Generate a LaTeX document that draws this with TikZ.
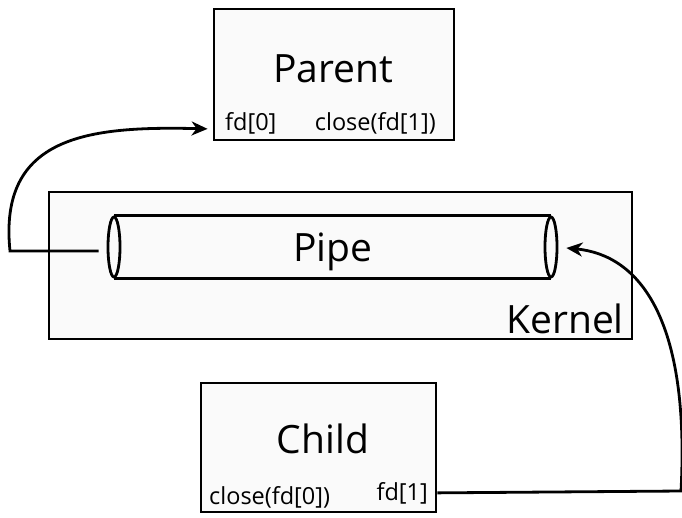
\documentclass[tikz,border=0pt]{standalone}
\usepackage{fontspec}
\setmainfont{Open Sans}
\usetikzlibrary{arrows.meta,positioning,calc,shapes.geometric}

\begin{document}
\begin{tikzpicture}[
  x=1pt, y=-1pt,
  box/.style={draw, line width=2.8pt, fill=black!2, inner sep=0pt},
  pipeend/.style={ellipse, draw, line width=2.8pt, fill=black!2, inner sep=0pt, minimum width=12pt, minimum height=60pt},
  big/.style={font=\fontsize{39}{42}\selectfont, inner sep=0pt},
  small/.style={font=\fontsize{23.5}{26}\selectfont, inner sep=0pt},
  arrow/.style={-{Stealth[length=16pt, width=14pt, inset=5pt]}, line width=2.8pt}
]
\useasboundingbox (0,0) rectangle (682,517);

% processes and kernel
\node[box, minimum width=240pt, minimum height=131pt] (parent) at (334,74.5) {};
\node[box, minimum width=583pt, minimum height=147pt] (kernel) at (340.5,265.5) {};
\node[box, minimum width=235pt, minimum height=129pt] (child) at (318.5,447.5) {};

\node[big, anchor=base] (parentname) at (333,82) {Parent};
\node[small, anchor=base west] (fd0) at (225,130) {fd[0]};
\node[small, anchor=base east] (close1) at (436,130) {close(fd[1])};

\node[big, anchor=base east] (kernelname) at (624,333) {Kernel};

\node[big, anchor=base] (childname) at (323,453) {Child};
\node[small, anchor=base west] (close0) at (209,504) {close(fd[0])};
\node[small, anchor=base east] (fd1) at (428,500) {fd[1]};

% pipe
\node[fill=black!2, minimum width=437pt, minimum height=60pt, inner sep=0pt] (pipe) at (332.5,247) {};
\node[pipeend] (pipel) at (114,247) {};
\node[pipeend] (piper) at (551,247) {};
\draw[line width=2.8pt] (pipel.north) -- (piper.north);
\draw[line width=2.8pt] (pipel.south) -- (piper.south);
\node[big, anchor=base] (pipename) at (333,261) {Pipe};

% data flow
\coordinate (lbend) at (10,251);
\coordinate (rbend) at (681,491);
\draw[arrow] ($(pipel.west)+(-8,4)$) -- (lbend) .. controls (-2,135) and (90,126) .. ($(parent.west |- fd0)+(-5,6)$);
\draw[arrow] (fd1 -| child.east) -- (rbend) .. controls (690,320) and (640,255) .. ($(piper.east)+(8,1)$);
\end{tikzpicture}
\end{document}
